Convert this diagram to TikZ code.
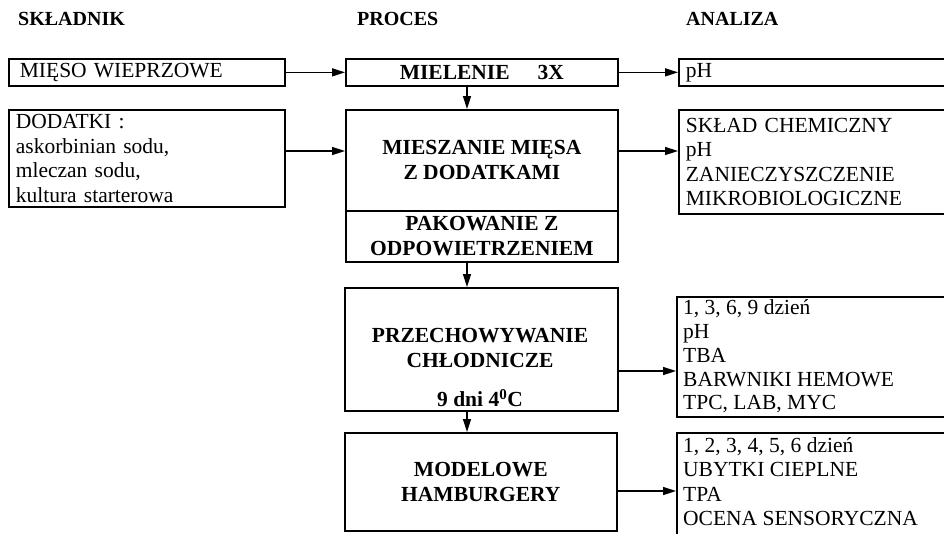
\documentclass[tikz,border=0pt]{standalone}
\usepackage{fontspec}
\setmainfont{Liberation Serif}
\usetikzlibrary{arrows.meta}
\begin{document}
\begin{tikzpicture}[x=1pt,y=-1pt,
  box/.style={draw,line width=1.7pt,inner ysep=0pt,anchor=north west},
  reg/.style={font=\fontsize{21.5}{24.5}\selectfont},
  bld/.style={font=\bfseries\fontsize{21.5}{25}\selectfont},
  lbox/.style={box,reg,align=left,inner xsep=7pt},
  pbox/.style={box,bld,align=center,inner xsep=0pt},
  head/.style={font=\bfseries\fontsize{20}{24}\selectfont,anchor=west,inner sep=0pt},
  txt/.style={reg,align=left,anchor=north west,inner sep=0pt},
  arr/.style={-{Triangle[length=13pt,width=8pt]},line width=1.5pt}
]
\useasboundingbox (0,0) rectangle (944,533);
\clip (0,0) rectangle (944,533);

% headers
\node[head] (h1) at (18,19) {SKŁADNIK};
\node[head] (h2) at (357,19) {PROCES};
\node[head] (h3) at (686,19) {ANALIZA};

% ingredients
\node[lbox,minimum height=27pt,inner xsep=11pt,text width=254pt] (meso) at (8,58) {MIĘSO WIEPRZOWE};
\node[lbox,text width=262pt,minimum height=97pt] (dod) at (8,109)
  {DODATKI :\\askorbinian sodu,\\mleczan sodu,\\kultura starterowa};

% process
\node[pbox,minimum width=272pt,minimum height=27pt] (miel) at (345,58) {MIELENIE\hspace{1.3em}3X};
\node[pbox,minimum width=272pt,minimum height=101pt] (mix) at (345,109) {MIESZANIE MIĘSA\\Z DODATKAMI};
\node[pbox,minimum width=272pt,minimum height=51pt] (pack) at (345,210) {PAKOWANIE Z\\ODPOWIETRZENIEM};
\node[pbox,minimum width=273pt,minimum height=123pt] (prz) at (344,287) {};
\node[bld,align=center,anchor=north,inner sep=0pt] (przt) at (480,328) {PRZECHOWYWANIE\\CHŁODNICZE};
\node[bld,anchor=north,inner sep=0pt] (przd) at (480,389) {9 dni 4\textsuperscript{0}C};
\node[pbox,minimum width=272pt,minimum height=98pt] (mod) at (344,432) {MODELOWE\\HAMBURGERY};

% analysis
\node[lbox,text width=266pt,minimum height=27pt] (an1) at (678,58) {pH};
\node[lbox,text width=266pt,minimum height=104pt] (an2) at (678,109)
  {SKŁAD CHEMICZNY\\pH\\ZANIECZYSZCZENIE\\MIKROBIOLOGICZNE};
\node[lbox,text width=268pt,minimum height=120pt] (an3) at (676,296) {};
\node[txt,font=\fontsize{21.5}{23.8}\selectfont] (an3t) at (683,299.5)
  {1, 3, 6, 9 dzień\\pH\\TBA\\BARWNIKI HEMOWE\\TPC, LAB, MYC};
\node[lbox,text width=268pt,minimum height=150pt] (an4) at (676,432) {};
\node[txt] (an4t) at (683,437)
  {1, 2, 3, 4, 5, 6 dzień\\UBYTKI CIEPLNE\\TPA\\OCENA SENSORYCZNA};

% helper coordinates
\coordinate (cx) at (467,0);
\coordinate (r2) at (0,151);
\coordinate (r3) at (0,371);
\coordinate (r4) at (0,491);

% horizontal arrows
\draw[arr] (meso.east) -- (miel.west);
\draw[arr] (miel.east) -- (an1.west);
\draw[arr] (dod.east |- r2) -- (mix.west |- r2);
\draw[arr] (mix.east |- r2) -- (an2.west |- r2);
\draw[arr] (prz.east |- r3) -- (an3.west |- r3);
\draw[arr] (mod.east |- r4) -- (an4.west |- r4);

% vertical arrows
\draw[arr] (miel.south -| cx) -- (mix.north -| cx);
\draw[arr] (pack.south -| cx) -- (prz.north -| cx);
\draw[arr] (prz.south -| cx) -- (mod.north -| cx);
\end{tikzpicture}
\end{document}
